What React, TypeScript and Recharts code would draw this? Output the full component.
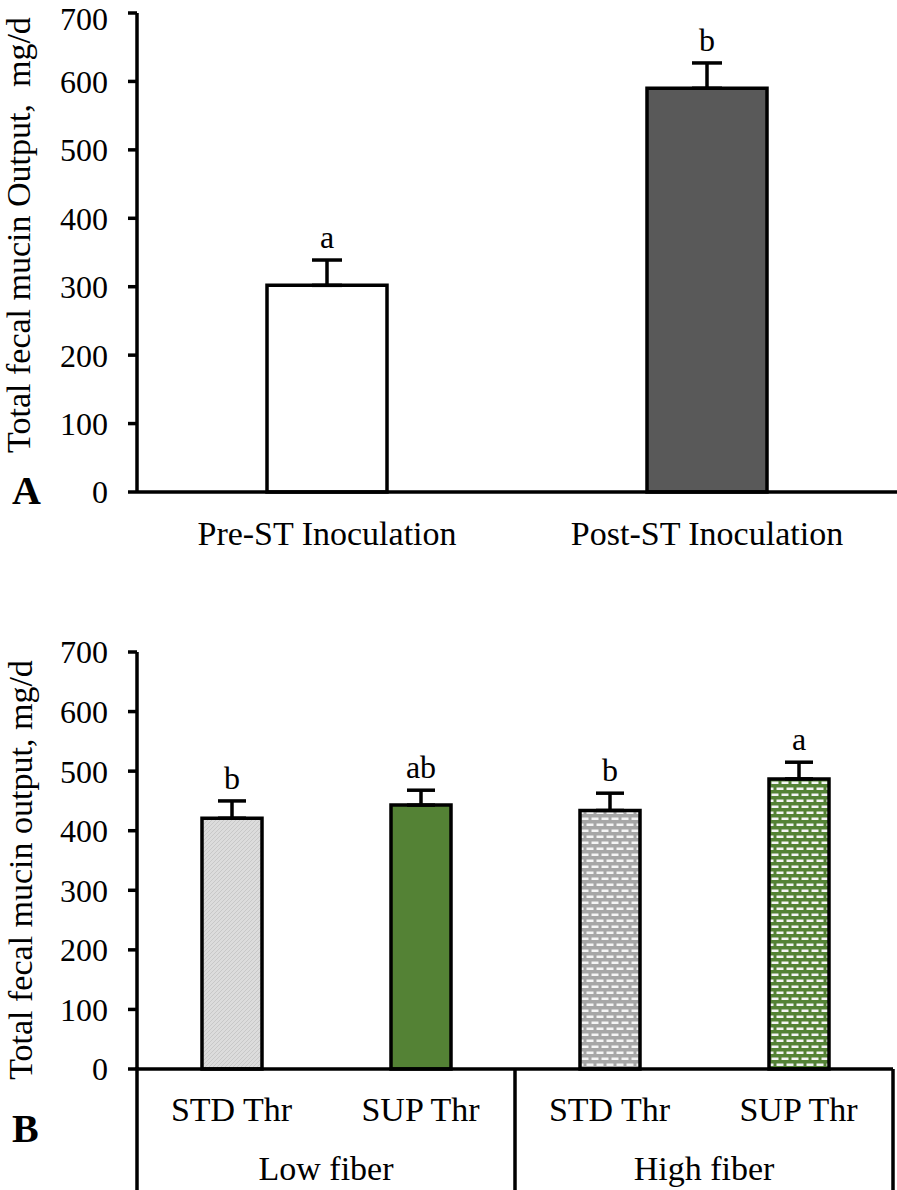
import { Bar, BarChart, Cell, ErrorBar, LabelList, XAxis, YAxis } from "recharts";

const FONT = '"Liberation Serif", "Times New Roman", serif';

// panel A
const phaseLabels = ["Pre-ST Inoculation", "Post-ST Inoculation"];
const phaseMeans = [302, 590];
const phaseSE = [37, 37];
const phaseLetters = ["a", "b"];
const phaseFills = ["#ffffff", "#595959"];

// panel B
const thrLabels = ["STD Thr", "SUP Thr", "STD Thr", "SUP Thr"];
const fiberGroups = ["Low fiber", "Low fiber", "High fiber", "High fiber"];
const thrMeans = [421, 443, 434, 487];
const thrSE = [29, 25, 29, 28];
const thrLetters = ["b", "ab", "b", "a"];
const thrFills = ["url(#hatchGray)", "#548235", "url(#dashGray)", "url(#dashGreen)"];

const yTicks = [0, 100, 200, 300, 400, 500, 600, 700];

const dataA = phaseLabels.map((label, i) => ({
  label,
  mean: phaseMeans[i],
  err: [0, phaseSE[i]],
  letter: phaseLetters[i],
}));

const dataB = thrLabels.map((label, i) => ({
  label,
  group: fiberGroups[i],
  mean: thrMeans[i],
  err: [0, thrSE[i]],
  letter: thrLetters[i],
}));

const AXIS1_H = 60;
const AXIS2_H = 61;
const LW = 3.5;

const letterContent = (means: number[], ses: number[]) => (p: any) => {
  const { x, y, width, height, index, value } = p;
  const i = index ?? 0;
  const errTop = Number(y) - ses[i] * (Number(height) / means[i]);
  return (
    <text
      x={Number(x) + Number(width) / 2}
      y={errTop - 12}
      textAnchor="middle"
      fontFamily={FONT}
      fontSize={32}
      fill="#000"
    >
      {value}
    </text>
  );
};

function GroupTick(props: any) {
  const { x, y, payload } = props;
  const half = payload?.offset || 189;
  return (
    <g>
      <text x={x} y={y + 51} textAnchor="middle" fontFamily={FONT} fontSize={34} fill="#000">
        {payload.value}
      </text>
      <line x1={x + half} x2={x + half} y1={y - AXIS1_H} y2={y + AXIS2_H} stroke="#000" strokeWidth={LW} />
      {payload.index === 0 ? (
        <line x1={x - half} x2={x - half} y1={y - AXIS1_H - 2} y2={y + AXIS2_H} stroke="#000" strokeWidth={LW} />
      ) : null}
    </g>
  );
}

function YTitle({ x, y, text }: { x: number; y: number; text: string }) {
  return (
    <text
      x={x}
      y={y}
      transform={`rotate(-90 ${x} ${y})`}
      textAnchor="middle"
      fontFamily={FONT}
      fontSize={34}
      fill="#000"
      style={{ whiteSpace: "pre" }}
    >
      {text}
    </text>
  );
}

const tickStyle = { fill: "#000", fontSize: 32, fontFamily: FONT };

export default function App() {
  return (
    <div style={{ position: "absolute", left: 0, top: 0, width: 897, height: 1190, background: "#fff" }}>
      <div style={{ position: "absolute", left: 0, top: 0 }}>
        <BarChart width={897} height={580} data={dataA} margin={{ top: 13, right: 0, bottom: 0, left: 0 }}>
          <XAxis
            dataKey="label"
            height={88}
            tickLine={false}
            tickSize={0}
            tickMargin={29}
            axisLine={{ stroke: "#000", strokeWidth: LW }}
            tick={{ ...tickStyle, fontSize: 34 }}
          />
          <YAxis
            domain={[0, 700]}
            ticks={yTicks}
            width={137}
            tickSize={9}
            tickMargin={20}
            axisLine={{ stroke: "#000", strokeWidth: LW }}
            tickLine={{ stroke: "#000", strokeWidth: LW }}
            tick={tickStyle}
            label={() => <YTitle x={30} y={235} text="Total fecal mucin Output,  mg/d" />}
          />
          <Bar dataKey="mean" barSize={120} stroke="#000" strokeWidth={LW} isAnimationActive={false}>
            {dataA.map((d, i) => (
              <Cell key={d.label} fill={phaseFills[i]} />
            ))}
            <ErrorBar dataKey="err" width={15} strokeWidth={LW} stroke="#000" direction="y" />
            <LabelList dataKey="letter" content={letterContent(phaseMeans, phaseSE)} />
          </Bar>
        </BarChart>
      </div>
      <div
        style={{
          position: "absolute",
          left: 12,
          top: 471,
          fontFamily: FONT,
          fontWeight: "bold",
          fontSize: 40,
          lineHeight: 1,
        }}
      >
        A
      </div>

      <div style={{ position: "absolute", left: 0, top: 600 }}>
        <BarChart width={897} height={590} data={dataB} margin={{ top: 52, right: 4, bottom: 0, left: 0 }}>
          <defs>
            <pattern id="hatchGray" width="4" height="4" patternUnits="userSpaceOnUse">
              <rect width="4" height="4" fill="#dcdcdc" />
              <path d="M0,4 L4,0" stroke="#c8c8c8" strokeWidth="1" />
            </pattern>
            <pattern id="dashGray" width="10" height="12" patternUnits="userSpaceOnUse">
              <rect width="10" height="12" fill="#a6a6a6" />
              <rect x="1.5" y="1.5" width="7" height="2.5" fill="#f4f4f4" />
              <rect x="-3.5" y="7.5" width="7" height="2.5" fill="#f4f4f4" />
              <rect x="6.5" y="7.5" width="7" height="2.5" fill="#f4f4f4" />
            </pattern>
            <pattern id="dashGreen" width="10" height="12" patternUnits="userSpaceOnUse">
              <rect width="10" height="12" fill="#548235" />
              <rect x="1.5" y="1.5" width="7" height="2.5" fill="#f4f4f4" />
              <rect x="-3.5" y="7.5" width="7" height="2.5" fill="#f4f4f4" />
              <rect x="6.5" y="7.5" width="7" height="2.5" fill="#f4f4f4" />
            </pattern>
          </defs>
          <XAxis
            dataKey="label"
            height={AXIS1_H}
            tickLine={false}
            tickSize={0}
            tickMargin={28}
            axisLine={{ stroke: "#000", strokeWidth: LW }}
            tick={{ ...tickStyle, fontSize: 34 }}
          />
          <XAxis
            xAxisId="grp"
            dataKey="group"
            allowDuplicatedCategory={false}
            height={AXIS2_H}
            tickLine={false}
            tickSize={0}
            tickMargin={0}
            axisLine={false}
            tick={<GroupTick />}
          />
          <YAxis
            domain={[0, 700]}
            ticks={yTicks}
            width={137}
            tickSize={9}
            tickMargin={20}
            axisLine={{ stroke: "#000", strokeWidth: LW }}
            tickLine={{ stroke: "#000", strokeWidth: LW }}
            tick={tickStyle}
            label={() => <YTitle x={32} y={270} text="Total fecal mucin output, mg/d" />}
          />
          <Bar dataKey="mean" barSize={60} stroke="#000" strokeWidth={LW} isAnimationActive={false}>
            {dataB.map((d, i) => (
              <Cell key={i} fill={thrFills[i]} />
            ))}
            <ErrorBar dataKey="err" width={14} strokeWidth={LW} stroke="#000" direction="y" />
            <LabelList dataKey="letter" content={letterContent(thrMeans, thrSE)} />
          </Bar>
        </BarChart>
      </div>
      <div
        style={{
          position: "absolute",
          left: 12,
          top: 1109,
          fontFamily: FONT,
          fontWeight: "bold",
          fontSize: 40,
          lineHeight: 1,
        }}
      >
        B
      </div>
    </div>
  );
}
